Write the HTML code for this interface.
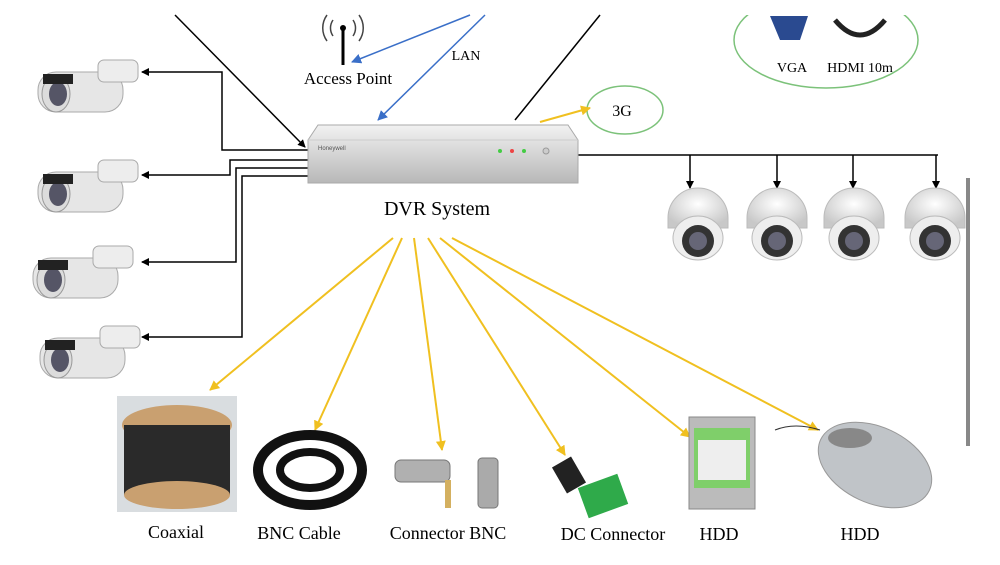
<!DOCTYPE html>
<html><head><meta charset="utf-8"><style>
html,body{margin:0;padding:0;background:#fff;}
svg{display:block;font-family:"Liberation Serif",serif;}
</style></head><body>
<svg width="1000" height="565" viewBox="0 0 1000 565" xmlns="http://www.w3.org/2000/svg">
<defs>
<marker id="ab" markerWidth="8" markerHeight="8" refX="7" refY="4" orient="auto" markerUnits="userSpaceOnUse"><path d="M0,0 L8,4 L0,8 z" fill="#000"/></marker>
<marker id="ay" markerWidth="10" markerHeight="10" refX="9" refY="5" orient="auto" markerUnits="userSpaceOnUse"><path d="M0,0 L10,5 L0,10 z" fill="#f0c020"/></marker>
<marker id="abl" markerWidth="10" markerHeight="10" refX="9" refY="5" orient="auto" markerUnits="userSpaceOnUse"><path d="M0,0 L10,5 L0,10 z" fill="#3a6fc8"/></marker>
<linearGradient id="dvr" x1="0" y1="0" x2="0" y2="1"><stop offset="0" stop-color="#f2f2f2"/><stop offset="1" stop-color="#b8b8b8"/></linearGradient>
<radialGradient id="dome" cx="0.5" cy="0.4" r="0.6"><stop offset="0" stop-color="#ffffff"/><stop offset="1" stop-color="#c8c8c8"/></radialGradient>
<g id="bullet">
<rect x="0" y="12" width="85" height="40" rx="18" fill="#e6e6e6" stroke="#aaa"/>
<rect x="60" y="0" width="40" height="22" rx="6" fill="#ededed" stroke="#aaa"/>
<ellipse cx="18" cy="34" rx="14" ry="18" fill="#dcdcdc" stroke="#999"/>
<ellipse cx="20" cy="34" rx="9" ry="12" fill="#556"/>
<rect x="5" y="14" width="30" height="10" fill="#222"/>
</g>
<g id="domec">
<path d="M0,25 A30,30 0 0 1 60,25 L60,35 L0,35 z" fill="url(#dome)" stroke="#bbb"/>
<ellipse cx="30" cy="45" rx="25" ry="22" fill="#eee" stroke="#bbb"/>
<circle cx="30" cy="48" r="16" fill="#333"/>
<circle cx="30" cy="48" r="9" fill="#667"/>
</g>
</defs>

<!-- top lines -->
<line x1="175" y1="15" x2="305" y2="147" stroke="#000" stroke-width="1.5" marker-end="url(#ab)"/>
<line x1="600" y1="15" x2="515" y2="120" stroke="#000" stroke-width="1.5"/>
<line x1="470" y1="15" x2="352" y2="62" stroke="#3a6fc8" stroke-width="1.5" marker-end="url(#abl)"/>
<line x1="485" y1="15" x2="378" y2="120" stroke="#3a6fc8" stroke-width="1.5" marker-end="url(#abl)"/>
<!-- access point -->
<line x1="343" y1="28" x2="343" y2="65" stroke="#000" stroke-width="3"/>
<circle cx="343" cy="28" r="3" fill="#000"/>
<path d="M333,20 A14,14 0 0 0 333,36 M353,20 A14,14 0 0 1 353,36 M327,15 A22,22 0 0 0 327,41 M359,15 A22,22 0 0 1 359,41" fill="none" stroke="#444" stroke-width="1.5"/>
<text x="348" y="84" font-size="17" text-anchor="middle">Access Point</text>
<text x="466" y="60" font-size="14" text-anchor="middle">LAN</text>

<!-- 3G -->
<ellipse cx="625" cy="110" rx="38" ry="24" fill="none" stroke="#7cc27a" stroke-width="1.5"/>
<text x="622" y="116" font-size="16" text-anchor="middle">3G</text>
<line x1="540" y1="122" x2="590" y2="108" stroke="#f0c020" stroke-width="2" marker-end="url(#ay)"/>

<!-- VGA HDMI -->
<ellipse cx="826" cy="40" rx="92" ry="48" fill="none" stroke="#7cc27a" stroke-width="1.5"/>
<rect x="762" y="14" width="50" height="40" fill="#fff"/>
<path d="M770,16 L780,40 L800,40 L808,16" fill="#2a4a90"/>
<path d="M835,20 q25,30 50,0" fill="none" stroke="#222" stroke-width="5"/>
<text x="792" y="72" font-size="14" text-anchor="middle">VGA</text>
<text x="860" y="72" font-size="14" text-anchor="middle">HDMI 10m</text>
<rect x="730" y="0" width="200" height="15" fill="#fff"/>

<!-- left connection lines -->
<g stroke="#000" stroke-width="1.5" fill="none">
<polyline points="308,150 222,150 222,72 142,72" marker-end="url(#ab)"/>
<polyline points="308,160 230,160 230,175 142,175" marker-end="url(#ab)"/>
<polyline points="308,168 236,168 236,262 142,262" marker-end="url(#ab)"/>
<polyline points="308,176 242,176 242,337 142,337" marker-end="url(#ab)"/>
<polyline points="577,155 938,155"/>
<line x1="690" y1="155" x2="690" y2="188" marker-end="url(#ab)"/>
<line x1="777" y1="155" x2="777" y2="188" marker-end="url(#ab)"/>
<line x1="853" y1="155" x2="853" y2="188" marker-end="url(#ab)"/>
<line x1="936" y1="155" x2="936" y2="188" marker-end="url(#ab)"/>
</g>

<!-- DVR -->
<path d="M318,125 L568,125 L578,140 L578,183 L308,183 L308,140 z" fill="url(#dvr)" stroke="#aaa"/>
<line x1="308" y1="140" x2="578" y2="140" stroke="#ccc"/>
<text x="318" y="150" font-size="6" fill="#555" font-family="Liberation Sans,sans-serif">Honeywell</text>
<circle cx="500" cy="151" r="2" fill="#4c4"/><circle cx="512" cy="151" r="2" fill="#e44"/><circle cx="524" cy="151" r="2" fill="#4c4"/>
<circle cx="546" cy="151" r="3" fill="#ccc" stroke="#999"/>
<text x="437" y="215" font-size="20" text-anchor="middle">DVR System</text>

<!-- cameras -->
<use href="#bullet" x="38" y="60"/>
<use href="#bullet" x="38" y="160"/>
<use href="#bullet" x="33" y="246"/>
<use href="#bullet" x="40" y="326"/>
<use href="#domec" x="668" y="193"/>
<use href="#domec" x="747" y="193"/>
<use href="#domec" x="824" y="193"/>
<use href="#domec" x="905" y="193"/>

<rect x="966" y="178" width="4" height="268" fill="#888"/>

<!-- yellow arrows -->
<g stroke="#f0c020" stroke-width="2" marker-end="url(#ay)">
<line x1="393" y1="238" x2="210" y2="390"/>
<line x1="402" y1="238" x2="315" y2="430"/>
<line x1="414" y1="238" x2="442" y2="450"/>
<line x1="428" y1="238" x2="565" y2="455"/>
<line x1="440" y1="238" x2="690" y2="437"/>
<line x1="452" y1="238" x2="818" y2="430"/>
</g>

<!-- products -->
<rect x="117" y="396" width="120" height="116" fill="#d9dde0"/>
<ellipse cx="177" cy="425" rx="55" ry="20" fill="#c9a070"/>
<rect x="124" y="425" width="106" height="70" fill="#2a2a2a"/>
<ellipse cx="177" cy="495" rx="53" ry="14" fill="#c9a070"/>
<ellipse cx="310" cy="470" rx="52" ry="35" fill="none" stroke="#111" stroke-width="10"/>
<ellipse cx="310" cy="470" rx="30" ry="18" fill="none" stroke="#111" stroke-width="8"/>
<rect x="395" y="460" width="55" height="22" rx="6" fill="#b0b0b0" stroke="#777"/>
<rect x="478" y="458" width="20" height="50" rx="4" fill="#aaa" stroke="#777"/>
<rect x="445" y="480" width="6" height="28" fill="#d4b060"/>
<rect x="558" y="460" width="22" height="30" fill="#222" transform="rotate(-30 569 475)"/>
<rect x="582" y="480" width="42" height="32" fill="#2faa4a" transform="rotate(-20 603 496)"/>
<rect x="689" y="417" width="66" height="92" fill="#bbb" stroke="#888"/>
<rect x="694" y="428" width="56" height="60" fill="#7fcf6a"/>
<rect x="698" y="440" width="48" height="40" fill="#eee"/>
<path d="M775,430 q20,-8 45,0" fill="none" stroke="#333"/>
<ellipse cx="875" cy="465" rx="60" ry="38" fill="#c0c4c8" stroke="#999" transform="rotate(25 875 465)"/>
<ellipse cx="850" cy="438" rx="22" ry="10" fill="#888"/>

<g font-size="18" text-anchor="middle">
<text x="176" y="538">Coaxial</text>
<text x="299" y="539">BNC Cable</text>
<text x="448" y="539">Connector BNC</text>
<text x="613" y="540">DC Connector</text>
<text x="719" y="540">HDD</text>
<text x="860" y="540">HDD</text>
</g>
</svg>
</body></html>
